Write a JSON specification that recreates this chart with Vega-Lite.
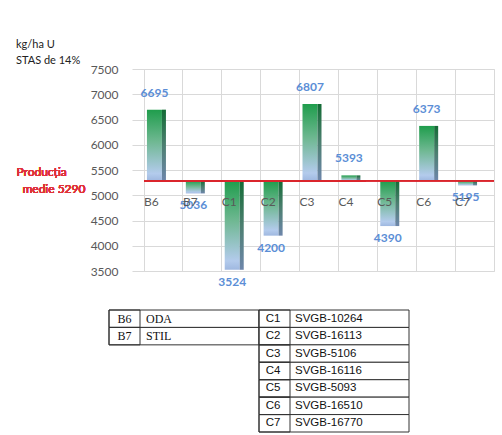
{
  "$schema": "https://vega.github.io/schema/vega-lite/v6.json",
  "padding": {"left": 15, "top": 38, "right": 5, "bottom": 0},
  "background": "white",
  "config": {"view": {"stroke": null}, "font": "Lato"},
  "spacing": 20,
  "vconcat": [
    {
      "width": 350,
      "height": 202,
      "view": {"stroke": "#d9d9d9"},
      "title": {"text": "kg/ha  U", "subtitle": "STAS de 14%", "anchor": "start", "frame": "group", "dx": -128, "fontSize": 11, "fontWeight": "normal", "color": "#222222", "subtitleFontSize": 11, "subtitleColor": "#222222", "offset": -3, "subtitlePadding": 5},
      "data": {"values": [
        {"cat": "B6", "value": 6695},
        {"cat": "B7", "value": 5036},
        {"cat": "C1", "value": 3524},
        {"cat": "C2", "value": 4200},
        {"cat": "C3", "value": 6807},
        {"cat": "C4", "value": 5393},
        {"cat": "C5", "value": 4390},
        {"cat": "C6", "value": 6373},
        {"cat": "C7", "value": 5195}
      ]},
      "layer": [
        {
          "mark": {"type": "bar", "width": 15, "xOffset": -9, "color": {"gradient": "linear", "x1": 0, "y1": 0, "x2": 0, "y2": 1, "stops": [{"offset": 0, "color": "#1f9d4c"}, {"offset": 0.45, "color": "#6fb892"}, {"offset": 0.9, "color": "#b3cbec"}, {"offset": 1, "color": "#9fb8e0"}]}},
          "encoding": {
            "x": {"field": "cat", "type": "nominal", "sort": null, "scale": {"paddingInner": 0, "paddingOuter": 0}, "axis": {"title": null, "labels": false, "ticks": false, "domain": false, "grid": true, "gridColor": "#d9d9d9", "bandPosition": 0}},
            "y": {"field": "value", "type": "quantitative", "scale": {"domain": [3500, 7500], "nice": false, "zero": false}, "axis": {"title": null, "values": [3500, 4000, 4500, 5000, 5500, 6000, 6500, 7000, 7500], "tickCount": 12, "format": "d", "labelOverlap": false, "grid": true, "gridColor": "#d9d9d9", "domain": false, "tickColor": "#d9d9d9", "tickSize": 12, "labelPadding": 14, "labelColor": "#595959", "labelFontSize": 12}},
            "y2": {"datum": 5290}
          }
        },
        {
          "mark": {"type": "bar", "width": 4, "xOffset": 0.5, "color": {"gradient": "linear", "x1": 0, "y1": 0, "x2": 0, "y2": 1, "stops": [{"offset": 0, "color": "#136b35"}, {"offset": 0.5, "color": "#4c7f70"}, {"offset": 1, "color": "#6e86ab"}]}},
          "encoding": {
            "x": {"field": "cat", "type": "nominal", "sort": null},
            "y": {"field": "value", "type": "quantitative"},
            "y2": {"datum": 5290}
          }
        },
        {
          "mark": {"type": "rule", "color": "#d9262c", "strokeWidth": 1.3},
          "encoding": {"y": {"datum": 5290}}
        },
        {
          "mark": {"type": "rule", "color": "#d9262c", "strokeWidth": 1.3, "xOffset": -128},
          "encoding": {"y": {"datum": 5290}}
        },
        {
          "transform": [{"filter": "datum.value > 5290"}],
          "mark": {"type": "text", "dx": -9, "dy": -17, "color": "#5b8ed6", "fontWeight": "bold", "fontSize": 12},
          "encoding": {
            "x": {"field": "cat", "type": "nominal", "sort": null},
            "y": {"field": "value", "type": "quantitative"},
            "text": {"field": "value", "type": "quantitative", "format": "d"}
          }
        },
        {
          "transform": [{"filter": "datum.value < 5290"}],
          "mark": {"type": "text", "dx": -9, "dy": 12, "color": "#5b8ed6", "fontWeight": "bold", "fontSize": 12},
          "encoding": {
            "x": {"field": "cat", "type": "nominal", "sort": null},
            "y": {"field": "value", "type": "quantitative"},
            "text": {"field": "value", "type": "quantitative", "format": "d"}
          }
        },
        {
          "mark": {"type": "text", "dx": -12, "dy": 21, "color": "#595959", "fontSize": 12},
          "encoding": {
            "x": {"field": "cat", "type": "nominal", "sort": null},
            "y": {"datum": 5290},
            "text": {"field": "cat"}
          }
        },
        {
          "mark": {"type": "text", "align": "left", "baseline": "bottom", "dx": -147, "dy": -2, "color": "#e0303a", "fontSize": 12, "text": "Producția"},
          "encoding": {
            "x": {"datum": "B6", "type": "nominal"},
            "y": {"datum": 5290}
          }
        },
        {
          "mark": {"type": "text", "align": "left", "baseline": "top", "dx": -141, "dy": 3, "color": "#e0303a", "fontSize": 12, "text": "medie 5290"},
          "encoding": {
            "x": {"datum": "B6", "type": "nominal"},
            "y": {"datum": 5290}
          }
        }
      ]
    },
    {
      "width": 265,
      "height": 122,
      "data": {"values": [
        {"side": "L", "row": 1, "code": "B6", "name": "ODA"},
        {"side": "L", "row": 2, "code": "B7", "name": "STIL"},
        {"side": "R", "row": 1, "code": "C1", "name": "SVGB-10264"},
        {"side": "R", "row": 2, "code": "C2", "name": "SVGB-16113"},
        {"side": "R", "row": 3, "code": "C3", "name": "SVGB-5106"},
        {"side": "R", "row": 4, "code": "C4", "name": "SVGB-16116"},
        {"side": "R", "row": 5, "code": "C5", "name": "SVGB-5093"},
        {"side": "R", "row": 6, "code": "C6", "name": "SVGB-16510"},
        {"side": "R", "row": 7, "code": "C7", "name": "SVGB-16770"}
      ]},
      "encoding": {
        "x": {"field": "side", "type": "nominal", "scale": {"domain": ["L", "R"], "range": [-35, 265], "paddingInner": 0, "paddingOuter": 0}, "axis": null},
        "y": {"field": "row", "type": "ordinal", "scale": {"domain": [1, 2, 3, 4, 5, 6, 7], "paddingInner": 0, "paddingOuter": 0}, "axis": null}
      },
      "layer": [
        {"mark": {"type": "rect", "fill": "white", "stroke": "#333333", "strokeWidth": 1}},
        {"mark": {"type": "bar", "width": 31, "xOffset": -59.5, "fill": "white", "fillOpacity": 0, "stroke": "#333333", "strokeWidth": 1}},
        {"transform": [{"filter": "datum.side == 'L'"}], "mark": {"type": "text", "dx": -59.5, "font": "Liberation Serif", "fontSize": 12, "color": "#111111"}, "encoding": {"text": {"field": "code"}}},
        {"transform": [{"filter": "datum.side == 'R'"}], "mark": {"type": "text", "dx": -61, "font": "Liberation Sans Narrow, Liberation Sans", "fontSize": 11.5, "color": "#111111"}, "encoding": {"text": {"field": "code"}}},
        {"transform": [{"filter": "datum.side == 'L'"}], "mark": {"type": "text", "align": "left", "dx": -38, "font": "Liberation Serif", "fontSize": 12, "color": "#111111"}, "encoding": {"text": {"field": "name"}}},
        {"transform": [{"filter": "datum.side == 'R'"}], "mark": {"type": "text", "align": "left", "dx": -39, "font": "Liberation Sans Narrow, Liberation Sans", "fontSize": 11.5, "color": "#111111"}, "encoding": {"text": {"field": "name"}}}
      ]
    }
  ]
}
